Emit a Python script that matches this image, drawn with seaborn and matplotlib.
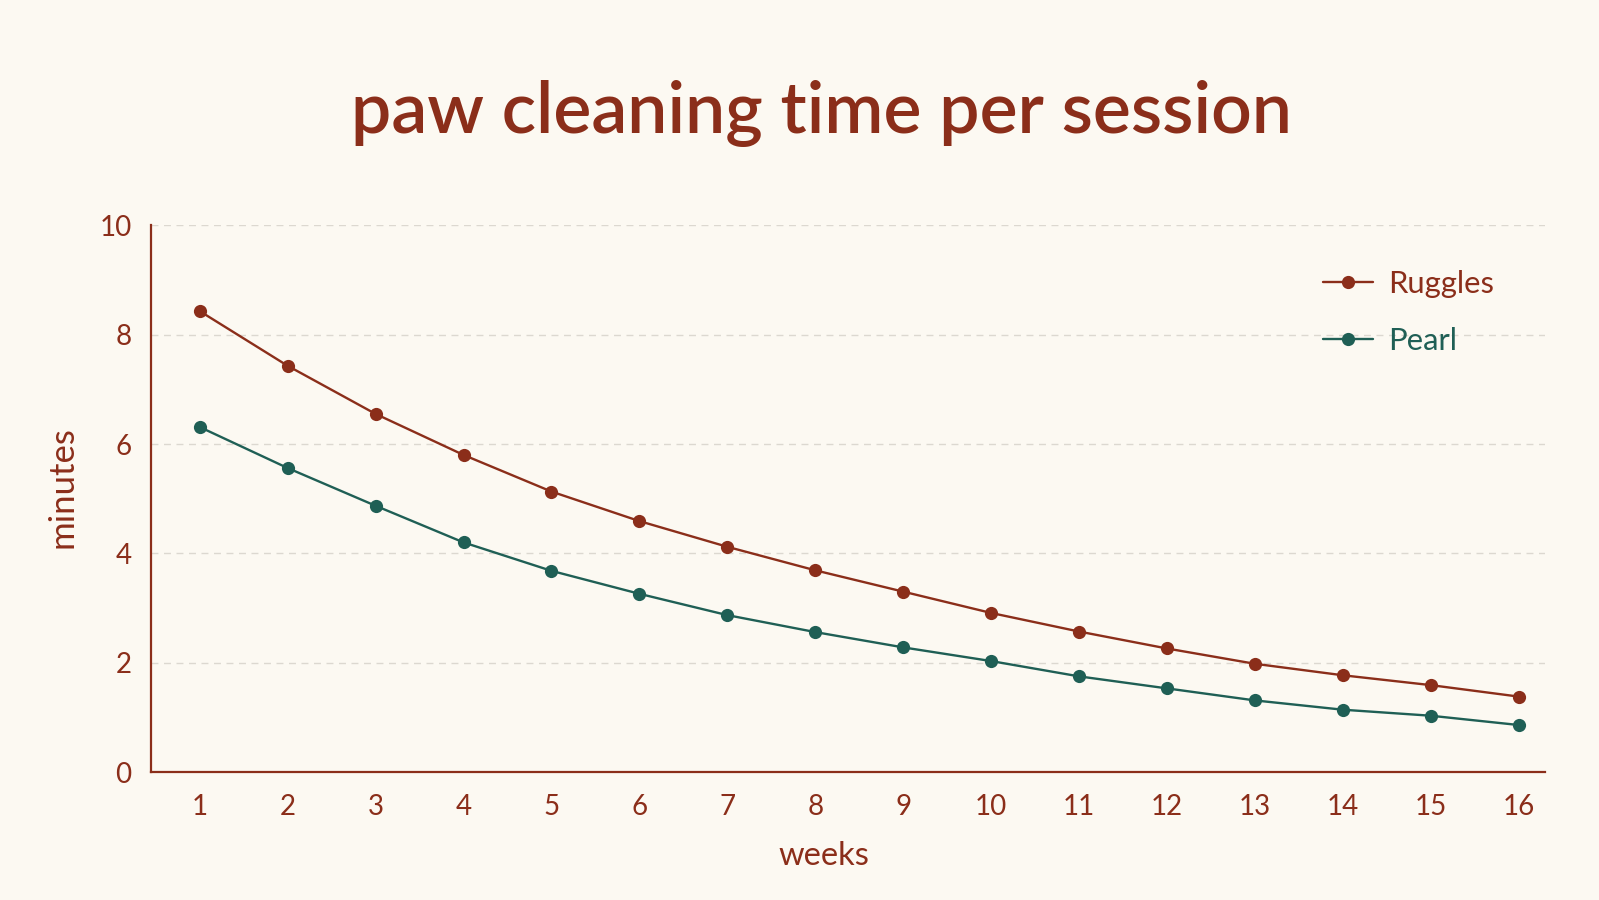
import matplotlib
matplotlib.use("Agg")
import matplotlib.pyplot as plt
import seaborn as sns
import pandas as pd

# values
weeks = list(range(1, 17))
ruggles = [8.43, 7.43, 6.55, 5.80, 5.13, 4.59, 4.12, 3.69, 3.30, 2.91, 2.57, 2.26, 1.98, 1.77, 1.59, 1.38]
pearl = [6.31, 5.56, 4.87, 4.20, 3.68, 3.26, 2.87, 2.56, 2.28, 2.03, 1.75, 1.53, 1.31, 1.14, 1.03, 0.86]
series_names = ["Ruggles", "Pearl"]
yticks = [0, 2, 4, 6, 8, 10]

BG = "#fcf9f2"
RED = "#8b2e1a"
GREEN = "#1f5f55"
palette = {"Ruggles": RED, "Pearl": GREEN}

df = pd.concat([
    pd.DataFrame({"week": weeks, "minutes": ruggles, "cat": "Ruggles"}),
    pd.DataFrame({"week": weeks, "minutes": pearl, "cat": "Pearl"}),
])

sns.set_theme(style="white")
plt.rcParams["font.family"] = ["Lato", "DejaVu Sans"]

fig = plt.figure(figsize=(15.99, 9), dpi=100, facecolor=BG)
ax = fig.add_axes([0.0944, 0.1422, 0.8718, 0.6074])
ax.set_facecolor(BG)

sns.lineplot(data=df, x="week", y="minutes", hue="cat", hue_order=series_names,
             palette=palette, marker="o", markersize=9.5, markeredgewidth=0,
             linewidth=1.7, ax=ax, legend=True)

ax.set_xlim(0.444, 16.3)
ax.set_ylim(0, 10)
ax.set_xticks(weeks)
ax.set_yticks(yticks)
ax.grid(axis="y", color="#dcd8d0", linestyle=(0, (5, 4)), linewidth=1)
ax.set_axisbelow(True)

for side in ["top", "right"]:
    ax.spines[side].set_visible(False)
for side in ["left", "bottom"]:
    ax.spines[side].set_color(RED)
    ax.spines[side].set_linewidth(1.6)

ax.tick_params(axis="y", length=6, width=1.4, color=RED, labelcolor=RED, labelsize=20, pad=8)
ax.tick_params(axis="x", length=0, labelcolor=RED, labelsize=20, pad=16)

# axis titles sit a bit left of the axes centre in the reference
ax.set_xlabel("weeks", color=RED, fontsize=23.5, labelpad=15)
ax.set_ylabel("minutes", color=RED, fontsize=25, labelpad=15)
ax.xaxis.label.set_x(0.4824)
ax.yaxis.label.set_y(0.5205)

fig.text(0.514, 0.874, "paw cleaning time per session", ha="center", va="center",
         color=RED, fontsize=51.5, fontweight="semibold")

leg = ax.legend(loc="upper left", bbox_to_anchor=(0.8274, 0.700),
                bbox_transform=fig.transFigure, frameon=False, borderpad=0,
                borderaxespad=0, fontsize=22.3, handlelength=1.6, handletextpad=0.5,
                labelspacing=0.94, title=None)
for txt, name in zip(leg.get_texts(), series_names):
    txt.set_color(palette[name])

fig.savefig("out.png", dpi=100, facecolor=BG)
